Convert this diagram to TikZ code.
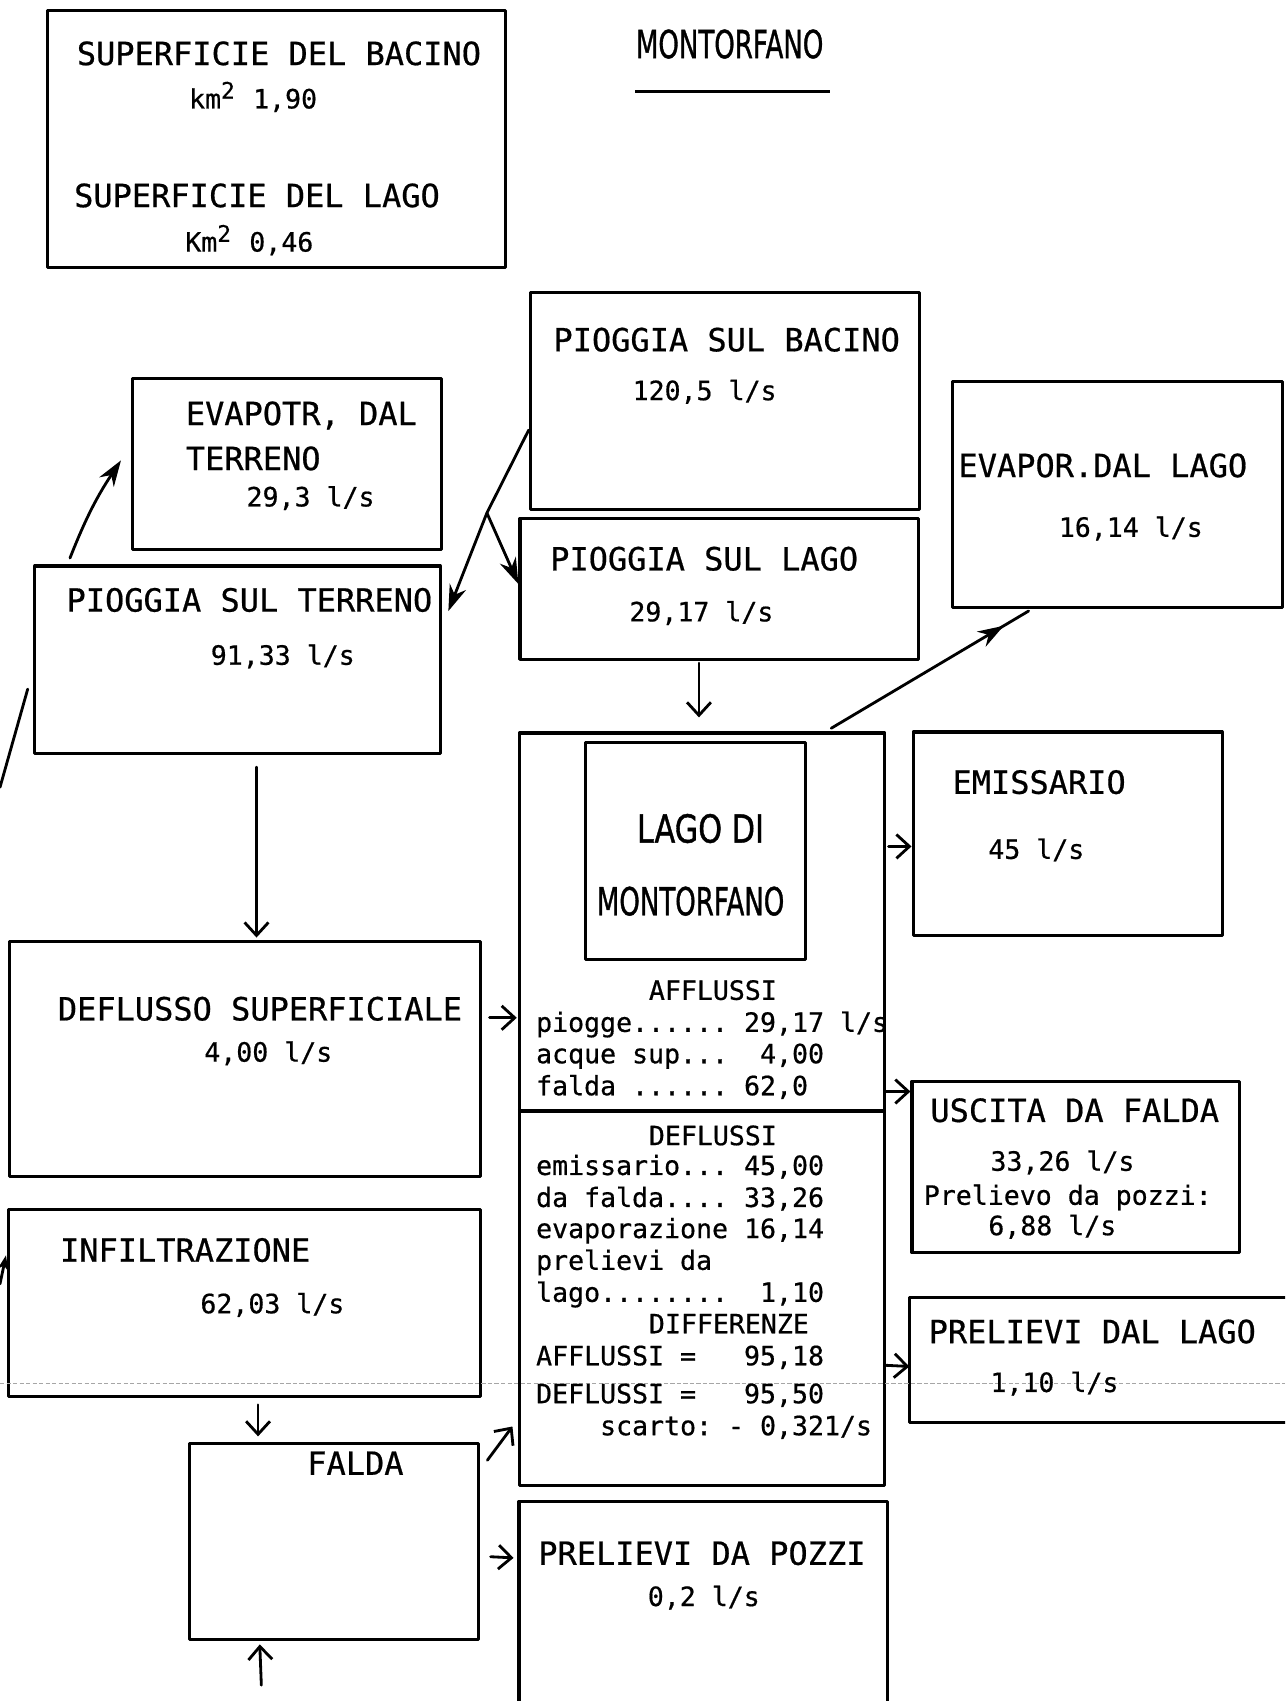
\documentclass[tikz,border=0pt]{standalone}
\usepackage{fontspec}
\setmainfont{DejaVu Sans Mono}
\newfontfamily\tw[FakeBold=0.6]{DejaVu Sans Mono}
\newfontfamily\nar[FakeBold=1.2]{DejaVu Sans}
\usetikzlibrary{fit,calc,arrows.meta,decorations.markings}
\frenchspacing
\tikzset{
  boxline/.style={line width=1.45pt, line cap=round, line join=round},
  box/.style={boxline, draw, inner sep=0pt},
  hbox/.style={inner sep=0pt},
  big/.style={inner sep=0pt, anchor=base west, font=\tw\fontsize{14.74pt}{17pt}\selectfont},
  sm/.style={inner sep=0pt, anchor=base west, font=\tw\fontsize{12.25pt}{14pt}\selectfont},
  cond/.style={inner sep=0pt, anchor=base west, font=\nar\fontsize{17.8pt}{20pt}\selectfont},
  conn/.style={line width=1.3pt, line cap=round},
  farr/.style={conn, -{Stealth[length=12pt,width=8pt]}},
  tarr/.style={conn, -{Straight Barb[length=6pt,width=11pt]}},
  evarr/.style={conn, postaction={decorate}, decoration={markings, mark=at position 0.874 with {\arrow{Stealth[length=12pt,width=8pt]}}}}
}
\newcommand\kmsq[1]{#1m\rlap{\raisebox{4.5pt}{\fontsize{10.5pt}{10pt}\selectfont 2}}\phantom{2}}
\begin{document}
\begin{tikzpicture}[x=0.5pt,y=-0.5pt]
\useasboundingbox (0,0) rectangle (1185,1568.6);
\clip (0,0) rectangle (1185,1568.6);
\fill[white] (0,0) rectangle (1185,1568.6);

% boxes
\node[box, fit={(44,10) (466,247)}] (area) {};
\node[box, fit={(489,270) (848,470)}] (bacino) {};
\node[box, fit={(122,349) (407,507)}] (evapotr) {};
\node[box, fit={(32,522) (406,695)}] (terreno) {};
\node[box, fit={(479.5,478) (847,608)}] (plago) {};
\node[box, fit={(878,352) (1183,560)}] (evlago) {};
\node[box, fit={(479,676) (816,1370)}] (lake) {};
\node[box, fit={(540,685) (743,885)}] (inner) {};
\node[box, fit={(842,675) (1127,863)}] (emiss) {};
\node[box, fit={(9,868) (443,1085)}] (defl) {};
\node[box, fit={(841,997) (1143,1155)}] (uscita) {};
\node[hbox, fit={(839,1197) (1190,1311)}] (prelago) {};
\draw[boxline] (prelago.north east) -- (prelago.north west) -- (prelago.south west) -- (prelago.south east);
\node[box, fit={(8,1115) (443,1288)}] (infil) {};
\node[box, fit={(175,1331) (441.5,1512)}] (falda) {};
\node[hbox, fit={(479,1385) (818,1580)}] (pozzi) {};
\draw[boxline] (pozzi.south west) -- (pozzi.north west) -- (pozzi.north east) -- (pozzi.south east);
\draw[boxline, line cap=butt] ($(lake.north west)+(0,350)$) -- ($(lake.north east)+(0,350)$);

% scanner line
\draw[gray!70, line width=0.3pt, dash pattern=on 2pt off 1pt] (0,1276) -- (1185,1276);

% texts
\node[big] (a1) at (70.5,60) {SUPERFICIE DEL BACINO};
\node[sm] (a2) at (174,100) {\kmsq{k} 1,90};
\node[big] (a3) at (68,191) {SUPERFICIE DEL LAGO};
\node[sm] (a4) at (170.5,232) {\kmsq{K} 0,46};

\node[cond] (title) at (586,53.6) {\scalebox{0.675}[1]{MONTORFANO}};
\draw[line width=1.2pt] ($(title.base west)+(0,31)$) -- ($(title.base west)+(179,31)$);

\node[big] (b1) at (510,324) {PIOGGIA SUL BACINO};
\node[sm] (b2) at (583,369) {120,5 l/s};
\node[big] (e1) at (171,392) {EVAPOTR, DAL};
\node[big] (e2) at (171,433.5) {TERRENO};
\node[sm] (e3) at (227,467) {29,3 l/s};
\node[big] (p1) at (61,564) {PIOGGIA SUL TERRENO};
\node[sm] (p2) at (194,613) {91,33 l/s};
\node[big] (l1) at (507,526) {PIOGGIA SUL LAGO};
\node[sm] (l2) at (580,573) {29,17 l/s};
\node[big] (v1) at (883.5,440) {EVAPOR.DAL LAGO};
\node[sm] (v2) at (976,495) {16,14 l/s};
\node[big] (m1) at (878,732) {EMISSARIO};
\node[sm] (m2) at (911,792) {45 l/s};
\node[big] (d1) at (53,941) {DEFLUSSO SUPERFICIALE};
\node[sm] (d2) at (188,979) {4,00 l/s};
\node[big] (u1) at (857.6,1034.6) {USCITA DA FALDA};
\node[sm] (u2) at (913,1079.6) {33,26 l/s};
\node[sm] (u3) at (851.5,1111) {Prelievo da pozzi:};
\node[sm] (u4) at (911,1139) {6,88 l/s};
\node[big] (r1) at (856,1238.6) {PRELIEVI DAL LAGO};
\node[sm] (r2) at (913,1283.6) {1,10 l/s};
\node[big] (i1) at (55,1163.5) {INFILTRAZIONE};
\node[sm] (i2) at (184.4,1211) {62,03 l/s};
\node[big] (f1) at (283,1360) {FALDA};
\node[big] (z1) at (496,1443) {PRELIEVI DA POZZI};
\node[sm] (z2) at (597,1481) {0,2 l/s};

\node[cond] (k1) at (587,777) {\scalebox{0.785}[1]{LAGO DI}};
\node[cond] (k2) at (550,844) {\scalebox{0.675}[1]{MONTORFANO}};

\node[sm] (q1) at (598,922) {AFFLUSSI};
\node[sm] (q2) at (494,951.5) {piogge...... 29,17 l/s};
\node[sm] (q3) at (494,980.5) {acque sup...~~4,00};
\node[sm] (q4) at (494,1010) {falda ...... 62,0};
\node[sm] (q5) at (598,1056) {DEFLUSSI};
\node[sm] (q6) at (494,1083.5) {emissario... 45,00};
\node[sm] (q7) at (494,1113) {da falda.... 33,26};
\node[sm] (q8) at (494,1141.7) {evaporazione 16,14};
\node[sm] (q9) at (494,1171) {prelievi da};
\node[sm] (q10) at (494,1200.5) {lago........~~1,10};
\node[sm] (q11) at (598,1229.5) {DIFFERENZE};
\node[sm] (q12) at (494,1259) {AFFLUSSI =~~~95,18};
\node[sm] (q13) at (494,1294) {DEFLUSSI =~~~95,50};
\node[sm] (q14) at (553,1323.5) {scarto: - 0,321/s};

% connectors
\coordinate (br) at (449,473);
\draw[farr] ($(bacino.north west)+(0,128)$) -- (br) -- ($(terreno.north east)+(6,43)$);
\draw[farr] (br) -- ($(plago.north west)+(0,62)$);
\draw[farr] ($(terreno.north west)+(34,-6)$) to[bend left=6] ($(evapotr.north west)+(-9,77)$);
\coordinate (lm1) at (0,726);
\draw[conn] (lm1) -- ($(terreno.south west)+(-5,-61)$);
\coordinate (lm2) at (0,1184);
\draw[conn, -{Stealth[length=7pt,width=5pt]}] (lm2) -- ($(infil.north west)+(-1,44)$);
\draw[tarr] ($(terreno.south west)+(206,11)$) -- ($(defl.north west)+(229,-2)$);
\draw[tarr] ($(plago.south west)+(166.5,2)$) -- ($(lake.north west)+(167,-13)$);
\draw[evarr] ($(lake.north west)+(289,-3)$) -- ($(evlago.south west)+(72,2)$);
\draw[tarr] ($(defl.north east)+(7,72)$) -- ($(lake.north west)+(-1,264)$);
\draw[tarr] ($(lake.north east)+(2,106)$) -- ($(emiss.north west)+(0,107)$);
\draw[tarr] ($(lake.north east)+(0,332)$) -- ($(uscita.north west)+(0,11)$);
\draw[tarr] ($(lake.north east)+(0,584.5)$) -- ($(prelago.north west)+(0,63.5)$);
\draw[tarr] ($(infil.south west)+(231.4,6)$) -- ($(falda.north west)+(64.4,-5)$);
\draw[tarr] ($(falda.north east)+(6.5,17)$) -- ($(lake.south west)+(-5,-56)$);
\draw[tarr] ($(falda.north east)+(9.5,106)$) -- ($(pozzi.north west)+(-5,52)$);
\coordinate (bot) at (241,1554);
\draw[tarr] (bot) -- ($(falda.south west)+(66,3)$);
\end{tikzpicture}
\end{document}
